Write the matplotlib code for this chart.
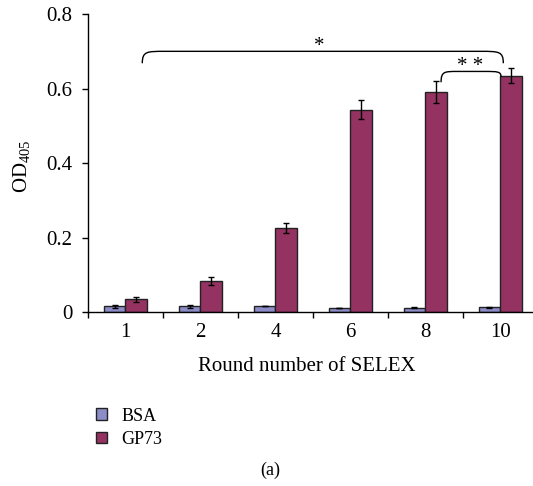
import matplotlib
matplotlib.use("Agg")
import matplotlib.pyplot as plt
import numpy as np
from matplotlib.path import Path
from matplotlib.patches import PathPatch, Patch

plt.rcParams['font.family'] = ['Liberation Serif', 'DejaVu Serif']
plt.rcParams['mathtext.fontset'] = 'custom'
plt.rcParams['mathtext.rm'] = 'Liberation Serif'

rounds = ['1', '2', '4', '6', '8', '10']
bsa = [0.015, 0.015, 0.016, 0.011, 0.012, 0.013]
bsa_err = [0.003, 0.004, 0.001, 0.001, 0.002, 0.001]
gp73 = [0.034, 0.084, 0.225, 0.543, 0.591, 0.634]
gp73_err = [0.007, 0.011, 0.013, 0.025, 0.030, 0.020]
yticks = [0, 0.2, 0.4, 0.6, 0.8]
ytick_labels = ['0', '0.2', '0.4', '0.6', '0.8']

BSA_C = '#8c8cc8'
GP_C = '#943262'
EDGE = '#222222'

fig = plt.figure(figsize=(5.33, 4.86), dpi=100)
ax = fig.add_axes([0.165, 0.358, 0.844, 0.613])

x = np.arange(len(rounds))
w = 0.29
ax.bar(x - w/2, bsa, w, color=BSA_C, edgecolor=EDGE, linewidth=1.0,
       yerr=bsa_err, error_kw=dict(ecolor='black', elinewidth=1, capsize=2.5, capthick=1))
ax.bar(x + w/2, gp73, w, color=GP_C, edgecolor=EDGE, linewidth=1.0,
       yerr=gp73_err, error_kw=dict(ecolor='black', elinewidth=1, capsize=2.5, capthick=1))

ax.set_xlim(-0.5, len(rounds) - 0.5)
ax.set_ylim(0, 0.8)
ax.set_yticks(yticks)
ax.set_yticklabels(ytick_labels, fontsize=15)
ax.set_xticks(x)
ax.set_xticklabels(rounds, fontsize=15)
ax.tick_params(axis='x', length=0, pad=8)
ax.set_xticks(np.arange(len(rounds) + 1) - 0.5, minor=True)
ax.tick_params(axis='x', which='minor', length=4, direction='out', width=1)
ax.tick_params(axis='y', length=4, direction='out', width=1, pad=7)
for s in ['top', 'right']:
    ax.spines[s].set_visible(False)
for s in ['left', 'bottom']:
    ax.spines[s].set_linewidth(1.0)

ax.set_xlabel('Round number of SELEX', fontsize=15)
ax.xaxis.set_label_coords(0.487, -0.15)
ax.set_ylabel('OD$_{405}$', fontsize=15)
ax.yaxis.set_label_coords(-0.122, 0.49)


def bracket(ax, x0, y0, x1, y1, ytop, r=0.25):
    verts = [(x0, y0), (x0, ytop), (x0 + r * 0.2, ytop), (x0 + r, ytop),
             (x1 - r, ytop),
             (x1 - r * 0.2, ytop), (x1, ytop), (x1, y1)]
    codes = [Path.MOVETO, Path.CURVE4, Path.CURVE4, Path.CURVE4,
             Path.LINETO, Path.CURVE4, Path.CURVE4, Path.CURVE4]
    ax.add_patch(PathPatch(Path(verts, codes), fill=False, lw=1.0, color='black'))


# Significance brackets (annotations)
bracket(ax, x[0] + w/2 + 0.08, 0.668, x[5] + 0.04, 0.668, 0.700, r=0.3)
bracket(ax, x[4] + 0.21, 0.617, x[5] + 0.01, 0.631, 0.646, r=0.22)
ax.text(2.59, 0.712, '*', ha='center', va='center', fontsize=15)
ax.text(4.60, 0.660, '* *', ha='center', va='center', fontsize=15)

handles = [Patch(facecolor=BSA_C, edgecolor=EDGE, linewidth=1.0),
           Patch(facecolor=GP_C, edgecolor=EDGE, linewidth=1.0)]
fig.legend(handles, ['BSA', 'GP73'], loc='center left', bbox_to_anchor=(0.15, 0.12),
           frameon=False, fontsize=13, handlelength=0.6, handleheight=0.6,
           handletextpad=0.8, labelspacing=0.35)

fig.text(0.507, 0.033, '(a)', ha='center', va='center', fontsize=13)

fig.savefig('out.png', dpi=100)
